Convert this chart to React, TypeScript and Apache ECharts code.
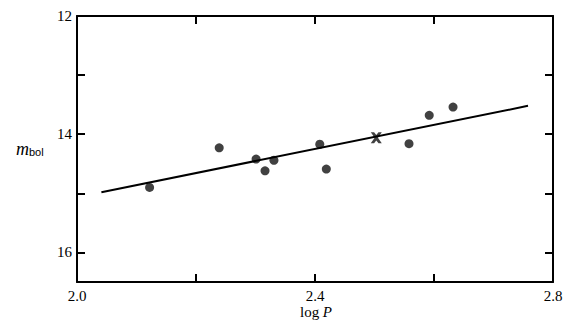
import React, { useEffect, useRef } from "react";
import * as echarts from "echarts";

const dotPoints: [number, number][] = [
  [2.122, 14.9],
  [2.239, 14.23],
  [2.301, 14.42],
  [2.316, 14.62],
  [2.331, 14.44],
  [2.408, 14.17],
  [2.419, 14.59],
  [2.558, 14.16],
  [2.592, 13.68],
  [2.632, 13.54],
];
const crossPoints: [number, number][] = [[2.503, 14.06]];
const fitLine: [number, number][] = [
  [2.041, 14.98],
  [2.758, 13.52],
];
const xLabels = ["2.0", "2.4", "2.8"];
const yLabels = ["12", "14", "16"];

const serif = "'Liberation Serif', 'DejaVu Serif', serif";

export default function App() {
  const ref = useRef<HTMLDivElement>(null);
  useEffect(() => {
    if (!ref.current) return;
    const chart = echarts.init(ref.current, undefined, { renderer: "svg" });
    const axisLine = { show: true, lineStyle: { color: "#000", width: 2 } };
    const axisTick = { show: true, inside: true, length: 8, lineStyle: { color: "#000", width: 2 } };
    chart.setOption({
      animation: false,
      backgroundColor: "#fff",
      grid: { left: 77, right: 17, top: 16, bottom: 47 },
      xAxis: [
        {
          type: "value",
          min: 2.0,
          max: 2.8,
          interval: 0.2,
          position: "bottom",
          axisLine,
          axisTick,
          splitLine: { show: false },
          axisLabel: {
            margin: 6,
            color: "#000",
            fontFamily: serif,
            fontSize: 15,
            formatter: (v: number) => {
              const s = v.toFixed(1);
              return xLabels.includes(s) ? s : "";
            },
          },
        },
        {
          type: "value",
          min: 2.0,
          max: 2.8,
          interval: 0.2,
          position: "top",
          axisLine,
          axisTick,
          splitLine: { show: false },
          axisLabel: { show: false },
        },
      ],
      yAxis: [
        {
          type: "value",
          inverse: true,
          min: 12,
          max: 16.5,
          interval: 1,
          position: "left",
          axisLine,
          axisTick,
          splitLine: { show: false },
          axisLabel: {
            margin: 5,
            color: "#000",
            fontFamily: serif,
            fontSize: 15,
            showMaxLabel: false,
            formatter: (v: number) => {
              const s = String(Math.round(v));
              return yLabels.includes(s) && Math.abs(v - Math.round(v)) < 1e-6 ? s : "";
            },
          },
        },
        {
          type: "value",
          inverse: true,
          min: 12,
          max: 16.5,
          interval: 1,
          position: "right",
          axisLine,
          axisTick,
          splitLine: { show: false },
          axisLabel: { show: false },
        },
      ],
      series: [
        {
          type: "line",
          data: fitLine,
          symbol: "none",
          lineStyle: { color: "#000", width: 2 },
          silent: true,
        },
        {
          type: "scatter",
          data: dotPoints,
          symbol: "circle",
          symbolSize: 9,
          itemStyle: { color: "#111" },
        },
        {
          type: "scatter",
          data: crossPoints,
          symbol: "path://M0,0L3,0L5,2.5L7,0L10,0L6.5,5L10,10L7,10L5,7.5L3,10L0,10L3.5,5Z",
          symbolSize: 11,
          itemStyle: { color: "#111" },
        },
      ],
      graphic: [
        {
          type: "text",
          left: 16,
          top: 140,
          style: {
            text: "{m|m}{s|bol}",
            rich: {
              m: { fontFamily: serif, fontStyle: "italic", fontSize: 18, fill: "#000" },
              s: { fontFamily: "'Liberation Sans', Arial, sans-serif", fontSize: 11, fill: "#000", padding: [6, 0, 0, 0] },
            },
          },
        },
        {
          type: "text",
          x: 316,
          y: 312,
          style: {
            text: "{a|log }{b|P}",
            align: "center",
            verticalAlign: "middle",
            rich: {
              a: { fontFamily: serif, fontSize: 15, fill: "#000" },
              b: { fontFamily: serif, fontStyle: "italic", fontSize: 15, fill: "#000" },
            },
          },
        },
      ],
    });
    return () => chart.dispose();
  }, []);
  return (
    <div
      ref={ref}
      style={{ position: "fixed", left: 0, top: 0, width: 570, height: 329 }}
    />
  );
}
